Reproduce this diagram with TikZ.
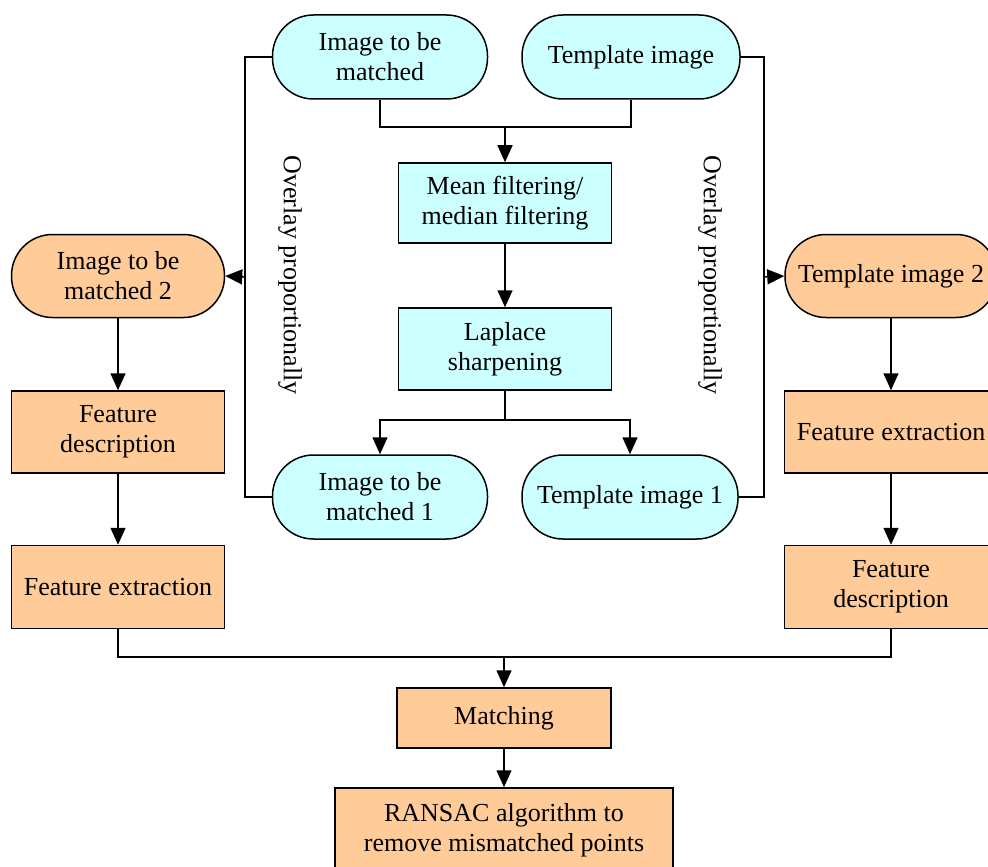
\documentclass[tikz,border=0pt]{standalone}
\usepackage{fontspec}
\setmainfont{Liberation Serif}
\usetikzlibrary{arrows.meta}
\definecolor{cyanfill}{RGB}{204,255,255}
\definecolor{orangefill}{RGB}{255,204,153}
\begin{document}
\begin{tikzpicture}[x=0.5pt,y=-0.5pt,
  every node/.style={font=\fontsize{13}{15}\selectfont, align=center, inner sep=0pt},
  pill/.style={draw, line width=0.75pt, rounded corners=20.5pt, minimum height=42pt},
  boxnode/.style={draw, line width=0.75pt},
  cyanpill/.style={pill, fill=cyanfill},
  orangepill/.style={pill, fill=orangefill},
  cyanbox/.style={boxnode, fill=cyanfill},
  orangebox/.style={boxnode, fill=orangefill},
  link/.style={line width=0.75pt},
  arrowlink/.style={line width=0.75pt, -{Triangle[length=8.5pt,width=7.5pt]}},
  sidetext/.style={rotate=-90, font=\fontsize{13}{15}\selectfont}
]
\useasboundingbox (0,0) rectangle (988,866);
\clip (0,0) rectangle (988,866);

% top pills
\node[cyanpill, minimum width=107.5pt] (p1) at (380,57) {Image to be\\matched};
\node[cyanpill, minimum width=109pt] (t) at (631,57) {Template image};
% central boxes
\node[cyanbox, minimum width=106.5pt, minimum height=40pt] (mean) at (505,203) {Mean filtering/\\median filtering};
\node[cyanbox, minimum width=106.5pt, minimum height=41pt] (lap) at (505,349) {Laplace\\sharpening};
% middle pills
\node[cyanpill, minimum width=107.5pt] (mp1) at (380,497) {Image to be\\matched 1};
\node[cyanpill, minimum width=108pt] (mt1) at (630,497) {Template image 1};
% left column
\node[orangepill, minimum width=106.5pt, minimum height=41.5pt] (l2) at (118,276) {Image to be\\matched 2};
\node[orangebox, minimum width=106.5pt, minimum height=41pt] (lfd) at (118,432) {Feature\\description};
\node[orangebox, minimum width=106.5pt, minimum height=41.5pt] (lfe) at (118,587) {Feature extraction};
% right column
\node[orangepill, minimum width=106pt, minimum height=41.5pt] (r2) at (891,276) {Template image 2};
\node[orangebox, minimum width=106.5pt, minimum height=41pt] (rfe) at (891,432) {Feature extraction};
\node[orangebox, minimum width=106.5pt, minimum height=41.5pt] (rfd) at (891,587) {Feature\\description};
% bottom
\node[orangebox, minimum width=107pt, minimum height=30pt] (match) at (504,718) {Matching};
\node[orangebox, minimum width=169pt, minimum height=42pt] (ransac) at (504,830) {RANSAC algorithm to\\remove mismatched points};

% side texts
\node[sidetext] (ovl) at (290,275) {Overlay proportionally};
\node[sidetext] (ovr) at (710,275) {Overlay proportionally};

% junctions
\coordinate (j1) at (505,127);
\coordinate (j2) at (505,420);
\coordinate (j3) at (504,657);
\coordinate (L1) at (245,57);
\coordinate (L2) at (245,497);
\coordinate (La) at (245,277);
\coordinate (R1) at (764,57);
\coordinate (R2) at (764,497);
\coordinate (Ra) at (764,277);

% top merge
\draw[link] (p1.south) |- (j1);
\draw[link] (t.south) |- (j1);
\draw[arrowlink] (j1) -- (mean.north);
\draw[arrowlink] (mean.south) -- (lap.north);
% split
\draw[link] (lap.south) -- (j2);
\draw[arrowlink] (j2) -| (mp1.north);
\draw[arrowlink] (j2) -| (mt1.north);
% side loops
\draw[link] (p1.west) -- (L1) -- (L2) -- (mp1.west);
\draw[arrowlink] (La) -- (l2.east);
\draw[link] (t.east) -- (R1) -- (R2) -- (mt1.east);
\draw[arrowlink] (Ra) -- (r2.west);
% columns
\draw[arrowlink] (l2.south) -- (lfd.north);
\draw[arrowlink] (lfd.south) -- (lfe.north);
\draw[arrowlink] (r2.south) -- (rfe.north);
\draw[arrowlink] (rfe.south) -- (rfd.north);
% bottom merge
\draw[link] (lfe.south) |- (j3);
\draw[link] (rfd.south) |- (j3);
\draw[arrowlink] (j3) -- (match.north);
\draw[arrowlink] (match.south) -- (ransac.north);
\end{tikzpicture}
\end{document}
